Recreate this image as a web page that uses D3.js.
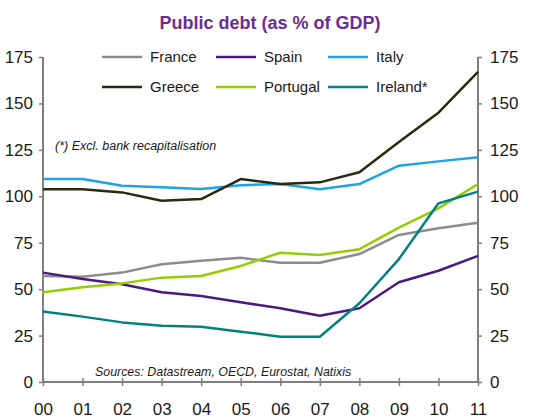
<!DOCTYPE html>
<html lang="en">
<head>
<meta charset="UTF-8">
<title>Public debt</title>
<script src="https://d3js.org/d3.v7.min.js"></script>
<style>
    body { margin: 0; background: #fff; }
    svg text { font-family: "Liberation Sans", Arial, sans-serif; }
</style>
</head>
<body>
<div id="chart"></div>
<script>
const years = ["00", "01", "02", "03", "04", "05", "06", "07", "08", "09", "10", "11"];
const yTicks = [0, 25, 50, 75, 100, 125, 150, 175];

const france   = [57.1, 56.7, 58.9, 63.4, 65.3, 66.9, 64.2, 64.2, 68.9, 79.2, 82.8, 85.8];
const spain    = [58.9, 55.5, 52.6, 48.3, 46.3, 42.9, 39.7, 35.7, 39.7, 53.7, 59.9, 67.9];
const italy    = [109.3, 109.3, 105.7, 104.8, 103.9, 106.0, 106.6, 103.8, 106.6, 116.5, 118.8, 121.0];
const greece   = [103.8, 103.8, 102.1, 97.6, 98.5, 109.3, 106.6, 107.5, 112.9, 129.2, 145.0, 167.0];
const portugal = [48.3, 51.0, 53.1, 56.2, 57.1, 62.5, 69.6, 68.4, 71.5, 83.1, 93.5, 106.6];
const ireland  = [37.9, 35.2, 32.1, 30.3, 29.8, 27.1, 24.4, 24.4, 42.4, 66.2, 96.2, 102.5];

const series = [
    { name: "France",   values: france,   color: "#8c8c8c" },
    { name: "Spain",    values: spain,    color: "#4b1a80" },
    { name: "Italy",    values: italy,    color: "#1fa2e6" },
    { name: "Greece",   values: greece,   color: "#2a2a10" },
    { name: "Portugal", values: portugal, color: "#99cc00" },
    { name: "Ireland*", values: ireland,  color: "#00817f" }
];

const width = 545, height = 419;
const svg = d3.select("#chart").append("svg")
    .attr("width", width).attr("height", height);

const x = d3.scalePoint().domain(years).range([43, 478]);
const y = d3.scaleLinear().domain([0, 175]).range([382, 57]);

// title
svg.append("text")
    .attr("x", 270).attr("y", 29)
    .attr("text-anchor", "middle")
    .style("font-size", "18px").style("font-weight", "bold")
    .attr("fill", "#6b2d90")
    .text("Public debt (as % of GDP)");

const axisColor = "#7f7f7f";

// left axis
const left = svg.append("g").attr("transform", "translate(43,0)")
    .call(d3.axisLeft(y).tickValues(yTicks).tickSize(4).tickPadding(6));
// right axis
const right = svg.append("g").attr("transform", "translate(478,0)")
    .call(d3.axisRight(y).tickValues(yTicks).tickSize(4).tickPadding(8));
// bottom axis, ticks crossing the line
const bottom = svg.append("g").attr("transform", "translate(0,382)")
    .call(d3.axisBottom(x).tickSize(4).tickPadding(17));
bottom.selectAll(".tick line").attr("y1", -4);

[left, right, bottom].forEach(g => {
    g.select(".domain").attr("stroke", axisColor).attr("stroke-width", 2);
    g.selectAll(".tick line").attr("stroke", axisColor).attr("stroke-width", 1.5);
    g.selectAll(".tick text").attr("fill", "#1a1a1a").style("font-size", "17px");
});
left.select(".domain").attr("d", "M0,382V57");
right.select(".domain").attr("d", "M0,382V57");
bottom.select(".domain").attr("d", "M43,0H478");

// lines
const line = d3.line().x((d, i) => x(years[i])).y(d => y(d));
svg.append("g").selectAll("path")
    .data(series)
    .join("path")
    .attr("d", d => line(d.values))
    .attr("fill", "none")
    .attr("stroke", d => d.color)
    .attr("stroke-width", 2.5)
    .attr("stroke-linejoin", "round");

// legend
const legendX = [102, 216, 328];
const legendY = [57, 87];
const legend = svg.append("g").selectAll("g")
    .data(series)
    .join("g")
    .attr("transform", (d, i) => `translate(${legendX[i % 3]},${legendY[Math.floor(i / 3)]})`);
legend.append("line")
    .attr("x1", 0).attr("x2", 40)
    .attr("stroke", d => d.color).attr("stroke-width", 2.5);
legend.append("text")
    .attr("x", 48).attr("y", 5)
    .style("font-size", "15px").attr("fill", "#1a1a1a")
    .text(d => d.name);

// notes
svg.append("text")
    .attr("x", 55).attr("y", 150)
    .style("font-size", "12.5px").style("font-style", "italic")
    .attr("fill", "#1a1a1a")
    .text("(*) Excl. bank recapitalisation");
svg.append("text")
    .attr("x", 95).attr("y", 376)
    .style("font-size", "12.4px").style("font-style", "italic")
    .attr("fill", "#1a1a1a")
    .text("Sources: Datastream, OECD, Eurostat, Natixis");
</script>
</body>
</html>
